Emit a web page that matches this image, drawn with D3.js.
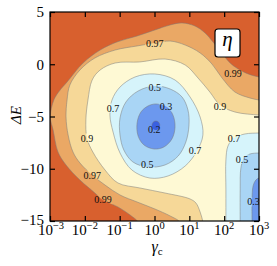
<!DOCTYPE html>
<html><head><meta charset="utf-8">
<script src="https://cdn.jsdelivr.net/npm/d3@7"></script>
<style>body{margin:0;background:#fff}svg{display:block}</style>
</head><body>
<svg id="c" width="277" height="266"></svg>
<script>
// ---- data (x in log10 γc, y in ΔE) ----
const xTicks = [1e-3, 1e-2, 1e-1, 1, 10, 100, 1000];
const xExps = ["−3", "−2", "−1", "0", "1", "2", "3"];
const yTicks = [5, 0, -5, -10, -15];
const levels = [0.99, 0.97, 0.9, 0.7, 0.5, 0.3, 0.2];
const topColor = "#d8602e";
const levelColors = ["#eaa865", "#f6d898", "#fef9d4", "#d6f4fb", "#a9d5f5", "#6c98ee", "#3a60e0"];

const c099 = [[-0.44,-15.7],[-0.47,-15.1],[-0.70,-14.43],[-1.05,-13.66],[-1.48,-12.99],[-1.71,-12.32],[-2.14,-11.08],[-2.54,-9.64],[-2.77,-8.40],[-2.91,-6.29],[-2.99,-5.05],[-2.89,-3.42],[-2.71,-2.47],[-2.51,-1.70],[-2.05,0.12],[-1.56,1.36],[-1.08,2.13],[-0.50,2.70],[0.01,3.28],[0.45,3.76],[0.79,3.95],[1.16,3.66],[1.45,3.0],[1.68,2.13],[1.91,1.17],[2.17,0.12],[2.40,-0.45],[2.69,-0.93],[3.00,-1.22],[3.25,-1.3]];
const c097 = [[0.76,-15.7],[0.73,-15.1],[0.45,-14.52],[0.01,-13.85],[-0.50,-13.18],[-0.99,-12.51],[-1.42,-11.56],[-1.79,-10.60],[-2.14,-9.45],[-2.34,-8.40],[-2.48,-6.77],[-2.54,-5.05],[-2.51,-3.42],[-2.43,-1.99],[-2.14,-0.55],[-1.71,0.60],[-1.13,1.36],[-0.50,1.75],[0.01,2.03],[0.45,2.22],[0.88,1.84],[1.31,1.08],[1.65,0.02],[1.94,-1.32],[2.31,-2.66],[2.74,-3.23],[3.00,-3.42],[3.25,-3.5]];
const c09 = [[1.41,-15.7],[1.39,-15.1],[1.31,-14.14],[1.19,-13.28],[1.02,-12.89],[0.30,-12.32],[-0.42,-11.84],[-1.05,-11.36],[-1.42,-10.12],[-1.77,-8.40],[-1.94,-7.06],[-1.97,-5.33],[-1.91,-3.42],[-1.79,-1.51],[-1.56,-0.55],[-1.13,0.12],[-0.42,0.22],[0.30,0.50],[0.88,-0.07],[1.25,-1.32],[1.59,-2.66],[1.88,-3.90],[2.31,-4.57],[3.00,-4.86],[3.25,-4.9]];
const c07a = [[-1.22,-3.42],[-0.99,-2.18],[-0.56,-1.22],[0.01,-0.93],[0.59,-1.51],[1.02,-3.13],[1.31,-5.05],[1.39,-6.77],[1.22,-8.30],[0.88,-9.74],[0.39,-10.69],[-0.13,-10.89],[-0.65,-10.12],[-0.99,-8.49],[-1.19,-6.48],[-1.28,-4.86]];
const c07b = [[2.05,-15.7],[2.05,-15.1],[2.05,-12.03],[2.05,-9.16],[2.11,-7.82],[2.28,-7.06],[2.60,-6.67],[3.00,-6.58],[3.25,-6.55]];
const c05a = [[0.01,-2.08],[0.45,-2.37],[0.79,-3.13],[0.96,-4.38],[0.99,-5.81],[0.90,-7.44],[0.68,-8.78],[0.30,-9.64],[-0.19,-9.83],[-0.62,-9.35],[-0.88,-8.21],[-0.99,-6.77],[-0.99,-5.14],[-0.82,-3.61],[-0.47,-2.56]];
const c05b = [[2.46,-15.7],[2.46,-15.1],[2.46,-12.03],[2.48,-9.93],[2.57,-8.97],[2.74,-8.59],[3.00,-8.49],[3.25,-8.47]];
const c03a = [[0.04,-3.80],[0.36,-4.09],[0.53,-4.86],[0.59,-6.00],[0.50,-7.15],[0.27,-7.92],[-0.01,-8.11],[-0.30,-7.73],[-0.47,-6.87],[-0.50,-5.62],[-0.39,-4.57],[-0.19,-4.00]];
const c03b = [[2.80,-15.7],[2.80,-15.1],[2.80,-13.0],[2.83,-11.65],[2.91,-11.08],[3.00,-10.89],[3.25,-10.85]];
const c02 = [[0.04,-5.43],[0.12,-5.55],[0.155,-5.86],[0.12,-6.17],[0.04,-6.29],[-0.04,-6.17],[-0.075,-5.86],[-0.04,-5.55]];

const labelText = ["0.97","0.99","0.9","0.7","0.5","0.3","0.2","0.9","0.7","0.7","0.5","0.5","0.97","0.99","0.3"];
const labelX = [0.01, 2.25, 1.88, -1.19, 0.01, 0.33, -0.01, -1.94, 1.16, 2.28, 2.51, -0.21, -1.79, -1.48, 2.84];
const labelY = [2.03, -0.93, -4.09, -4.19, -2.27, -4.09, -6.29, -7.06, -8.30, -7.06, -9.07, -9.64, -10.60, -12.99, -13.18];

// ---- layout ----
const L = 50, R = 259, T = 12, B = 221;
const svg = d3.select("#c");
const xs = d3.scaleLog().domain([1e-3, 1e3]).range([L, R]);
const ys = d3.scaleLinear().domain([-15, 5]).range([B, T]);
const X = v => xs(Math.pow(10, v));
const Y = v => ys(v);

const defs = svg.append("defs");
defs.append("clipPath").attr("id", "clip").append("rect")
  .attr("x", L).attr("y", T).attr("width", R - L).attr("height", B - T);

const openLine = d3.line().x(d => X(d[0])).y(d => Y(d[1])).curve(d3.curveCatmullRom.alpha(0.5));
const closedLine = d3.line().x(d => X(d[0])).y(d => Y(d[1])).curve(d3.curveCatmullRomClosed.alpha(0.5));
const corners = (pts) => {
  const a = pts[pts.length - 1], b = pts[0];
  return [[3.4, a[1]], [3.4, -16.5], [b[0], -16.5]];
};
const regionPath = (pts, closed) => closed ? closedLine(pts)
  : openLine(pts) + corners(pts).map(c => `L${X(c[0])},${Y(c[1])}`).join("") + "Z";

const regions = [
  {lv: 0, pts: c099, closed: false},
  {lv: 1, pts: c097, closed: false},
  {lv: 2, pts: c09, closed: false},
  {lv: 3, pts: c07a, closed: true},
  {lv: 3, pts: c07b, closed: false},
  {lv: 4, pts: c05a, closed: true},
  {lv: 4, pts: c05b, closed: false},
  {lv: 5, pts: c03a, closed: true},
  {lv: 5, pts: c03b, closed: false},
  {lv: 6, pts: c02, closed: true}
];

const plot = svg.append("g").attr("clip-path", "url(#clip)");
plot.append("rect").attr("x", L).attr("y", T).attr("width", R - L).attr("height", B - T).attr("fill", topColor);
plot.selectAll("path.f").data(regions).join("path").attr("class", "f")
  .attr("d", d => regionPath(d.pts, d.closed))
  .attr("fill", d => levelColors[d.lv]);

// labels (drawn first into a group so bbox is known for the line mask)
const labG = svg.append("g").attr("clip-path", "url(#clip)");
const labs = labG.selectAll("text").data(labelText).join("text")
  .attr("x", (d, i) => X(labelX[i])).attr("y", (d, i) => Y(labelY[i]))
  .attr("dy", "0.35em").attr("text-anchor", "middle")
  .attr("font-family", "'Liberation Serif', 'DejaVu Serif', serif").attr("font-size", 10)
  .attr("fill", "#111").text(d => d);

const mask = defs.append("mask").attr("id", "lm").attr("maskUnits", "userSpaceOnUse")
  .attr("x", 0).attr("y", 0).attr("width", 277).attr("height", 266);
mask.append("rect").attr("x", 0).attr("y", 0).attr("width", 277).attr("height", 266).attr("fill", "white");
labs.each(function () {
  const b = this.getBBox();
  mask.append("rect").attr("x", b.x - 1).attr("y", b.y + 1).attr("width", b.width + 2).attr("height", b.height - 2).attr("fill", "black");
});

const lines = svg.insert("g", () => labG.node()).attr("clip-path", "url(#clip)")
  .append("g").attr("mask", "url(#lm)");
lines.selectAll("path").data(regions).join("path")
  .attr("d", d => d.closed ? closedLine(d.pts) : openLine(d.pts))
  .attr("fill", "none").attr("stroke", "#7a7a7a").attr("stroke-width", 0.5);

// ---- axes ----
const font = "'Liberation Serif', 'DejaVu Serif', serif";
const ax = (g) => { g.select(".domain").remove(); g.selectAll("line").attr("stroke", "#000").attr("stroke-width", 1.2); };
svg.append("g").attr("transform", `translate(0,${B})`)
  .call(d3.axisBottom(xs).tickValues(xTicks).tickSizeInner(-5).tickSizeOuter(0).tickFormat(""))
  .call(ax);
svg.append("g").attr("transform", `translate(0,${T})`)
  .call(d3.axisTop(xs).tickValues(xTicks).tickSizeInner(-5).tickSizeOuter(0).tickFormat(""))
  .call(ax);
const yl = svg.append("g").attr("transform", `translate(${L},0)`)
  .call(d3.axisLeft(ys).tickValues(yTicks).tickSizeInner(-5).tickSizeOuter(0).tickPadding(6))
  .call(ax);
yl.selectAll("text").attr("font-family", font).attr("font-size", 15).attr("fill", "#000");
yl.selectAll(".tick").filter(d => d === -15).select("text").attr("dy", "0.2em");
svg.append("g").attr("transform", `translate(${R},0)`)
  .call(d3.axisRight(ys).tickValues(yTicks).tickSizeInner(-5).tickSizeOuter(0).tickFormat(""))
  .call(ax);

// x tick labels with superscripts
const xl = svg.append("g").attr("font-family", font).attr("fill", "#000");
xTicks.forEach((t, i) => {
  const tx = xl.append("text").attr("x", xs(t) + (i === 0 ? 1 : 0)).attr("y", 235).attr("text-anchor", "middle").attr("font-size", 15);
  tx.append("tspan").text("10");
  tx.append("tspan").attr("font-size", 10.5).attr("dy", -6).text(xExps[i]);
});

svg.append("rect").attr("x", L).attr("y", T).attr("width", R - L).attr("height", B - T)
  .attr("fill", "none").attr("stroke", "#000").attr("stroke-width", 1.2);

// axis titles
const xt = svg.append("text").attr("x", 157).attr("y", 252).attr("text-anchor", "middle")
  .attr("font-family", font).attr("fill", "#000");
xt.append("tspan").attr("font-size", 16).attr("font-style", "italic").text("γ");
xt.append("tspan").attr("font-size", 11).attr("dy", 3).text("c");

svg.append("text").attr("transform", "translate(21,115) rotate(-90)").attr("text-anchor", "middle")
  .attr("font-family", font).attr("font-style", "italic").attr("font-size", 15).attr("fill", "#000").text("ΔE");

// η box
svg.append("rect").attr("x", 215).attr("y", 29).attr("width", 25).attr("height", 28).attr("rx", 3)
  .attr("fill", "#fff").attr("stroke", "#000").attr("stroke-width", 1.2);
svg.append("text").attr("x", 227.5).attr("y", 46).attr("text-anchor", "middle")
  .attr("font-family", font).attr("font-style", "italic").attr("font-size", 21).attr("fill", "#000").text("η");
</script>
</body></html>
